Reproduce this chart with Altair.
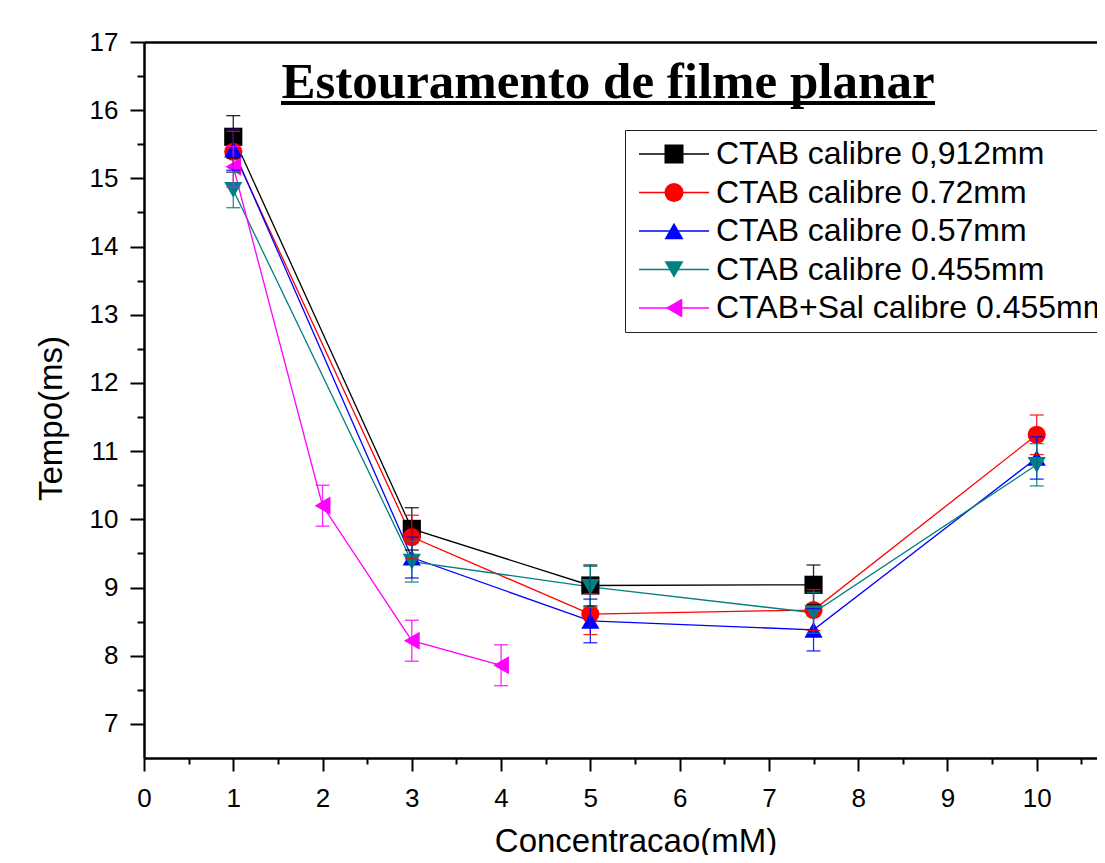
import altair as alt
import pandas as pd

# ---------------- data ----------------
SERIES = [
    "CTAB calibre 0,912mm",
    "CTAB calibre 0.72mm",
    "CTAB calibre 0.57mm",
    "CTAB calibre 0.455mm",
    "CTAB+Sal calibre 0.455mm",
]
COLORS = ["#000000", "#ff0000", "#0000ff", "#008080", "#ff00ff"]
SHAPES = ["square", "circle", "triangle-up", "triangle-down", "triangle-left"]

X_S1 = [1, 3, 5, 7.5]
Y_S1 = [15.61, 9.86, 9.03, 9.04]
E_S1 = [0.31, 0.31, 0.30, 0.29]

X_S2 = [1, 3, 5, 7.5, 10]
Y_S2 = [15.39, 9.74, 8.61, 8.67, 11.24]
E_S2 = [0.30, 0.32, 0.30, 0.30, 0.29]

X_S3 = [1, 3, 5, 7.5, 10]
Y_S3 = [15.42, 9.44, 8.51, 8.38, 10.90]
E_S3 = [0.30, 0.30, 0.32, 0.31, 0.31]

X_S4 = [1, 3, 5, 7.5, 10]
Y_S4 = [14.83, 9.38, 9.01, 8.63, 10.80]
E_S4 = [0.26, 0.30, 0.30, 0.30, 0.31]

X_S5 = [1, 2, 3, 4]
Y_S5 = [15.17, 10.20, 8.22, 7.86]
E_S5 = [0.30, 0.30, 0.30, 0.30]

X_TICKS = [0, 1, 2, 3, 4, 5, 6, 7, 8, 9, 10]
X_MINOR = [0.5, 1.5, 2.5, 3.5, 4.5, 5.5, 6.5, 7.5, 8.5, 9.5, 10.5]
Y_TICKS = [7, 8, 9, 10, 11, 12, 13, 14, 15, 16, 17]
Y_MINOR = [7.5, 8.5, 9.5, 10.5, 11.5, 12.5, 13.5, 14.5, 15.5, 16.5]

TITLE = "Estouramento de filme planar"
X_TITLE = "Concentracao(mM)"
Y_TITLE = "Tempo(ms)"

X_DOMAIN = [0, 10.765]
Y_DOMAIN = [6.5, 17]

# marker legend uses its own (label-hidden) domain so it is not merged
SERIES_MARK = [s + " " for s in SERIES]

# ---------------- table ----------------
rows = []
for name, mname, xs_, ys_, es_ in zip(
    SERIES, SERIES_MARK,
    [X_S1, X_S2, X_S3, X_S4, X_S5],
    [Y_S1, Y_S2, Y_S3, Y_S4, Y_S5],
    [E_S1, E_S2, E_S3, E_S4, E_S5],
):
    for xv, yv, ev in zip(xs_, ys_, es_):
        rows.append({"series": name, "series2": mname, "x": xv, "y": yv, "err": ev})
df = pd.DataFrame(rows)

FONT = "Liberation Sans"

xs = alt.Scale(domain=X_DOMAIN, nice=False, zero=False)
ys = alt.Scale(domain=Y_DOMAIN, nice=False, zero=False)
color_scale = alt.Scale(domain=SERIES, range=COLORS)

legend_lines = alt.Legend(
    title=None, orient="none", legendX=481, legendY=88,
    symbolType="M-1,0H6", symbolSize=400, symbolStrokeWidth=1.3,
    labelFont=FONT, labelFontSize=32, labelColor="black", labelOffset=51,
    labelLimit=2000, padding=8, rowPadding=6.5,
    strokeColor="#222222",
)
legend_marks = alt.Legend(
    title=None, orient="none", legendX=506, legendY=88,
    symbolSize=361, symbolStrokeWidth=0,
    labelFont=FONT, labelFontSize=32, labelExpr="''", labelOffset=51,
    labelLimit=2000, padding=8, rowPadding=6.5,
)

base = alt.Chart(df)

lines = base.mark_line(strokeWidth=1.3).encode(
    x=alt.X("x:Q", scale=xs, axis=alt.Axis(
        orient="bottom", values=X_TICKS, title=X_TITLE, grid=False,
        tickSize=13, tickWidth=2, tickColor="black",
        domainWidth=2.5, domainColor="black",
        labelFont=FONT, labelFontSize=26, labelColor="black", labelPadding=14,
        labelFlush=False, labelAngle=0,
        titleFont=FONT, titleFontSize=33, titleFontWeight="normal", titleColor="black",
        titleX=491.5, titleY=93, titleBaseline="alphabetic", titleAlign="center")),
    y=alt.Y("y:Q", scale=ys, axis=alt.Axis(
        orient="left", values=Y_TICKS, title=Y_TITLE, grid=False,
        tickSize=14, tickWidth=2, tickColor="black",
        domainWidth=2.5, domainColor="black",
        labelFont=FONT, labelFontSize=26, labelColor="black", labelPadding=12,
        labelFlush=False,
        titleFont=FONT, titleFontSize=33, titleFontWeight="normal", titleColor="black",
        titleAngle=270, titleX=-83, titleY=376, titleBaseline="alphabetic",
        titleAlign="center")),
    stroke=alt.Stroke("series:N", scale=color_scale, legend=legend_lines),
)

points = base.mark_point(filled=True, size=330, opacity=1).encode(
    x=alt.X("x:Q", scale=xs, axis=alt.Axis(
        orient="bottom", values=X_MINOR, labels=False, domain=False, grid=False,
        tickSize=6, tickWidth=2, tickColor="black", title=None)),
    y=alt.Y("y:Q", scale=ys, axis=alt.Axis(
        orient="left", values=Y_MINOR, labels=False, domain=False, grid=False,
        tickSize=7, tickWidth=2, tickColor="black", title=None)),
    shape=alt.Shape("series2:N", scale=alt.Scale(domain=SERIES_MARK, range=SHAPES), legend=legend_marks),
    fill=alt.Fill("series2:N", scale=alt.Scale(domain=SERIES_MARK, range=COLORS), legend=legend_marks),
)

bars = base.transform_calculate(
    lo="datum.y - datum.err", hi="datum.y + datum.err"
).mark_rule(strokeWidth=1.3, opacity=0.85).encode(
    x=alt.X("x:Q", scale=xs, axis=alt.Axis(
        orient="top", labels=False, ticks=False, grid=False, title=None,
        domainWidth=2.5, domainColor="black")),
    y=alt.Y("lo:Q", scale=ys, axis=None),
    y2="hi:Q",
    color=alt.Color("series:N", scale=color_scale, legend=None),
)

caps = base.transform_calculate(
    lo="datum.y - datum.err", hi="datum.y + datum.err"
).transform_fold(["lo", "hi"], as_=["end", "cy"]).mark_tick(
    orient="horizontal", size=14, thickness=1.3, opacity=0.85
).encode(
    x=alt.X("x:Q", scale=xs, axis=None),
    y=alt.Y("cy:Q", scale=ys, axis=None),
    color=alt.Color("series:N", scale=color_scale, legend=None),
)

title_df = pd.DataFrame({"t": [TITLE]})
title = alt.Chart(title_df).mark_text(
    font="Liberation Serif", fontSize=51, fontWeight="bold",
    align="center", baseline="alphabetic", color="black",
).encode(x=alt.value(464), y=alt.value(56), text="t:N")
underline = alt.Chart(title_df).mark_rule(strokeWidth=4, color="black").encode(
    x=alt.value(137), x2=alt.value(791), y=alt.value(61)
)

chart = alt.layer(lines, points, bars, caps, title, underline).resolve_axis(
    x="independent", y="independent"
).properties(
    width=961, height=716,
    autosize=alt.AutoSizeParams(type="none"),
    padding={"left": 136, "top": 34, "right": -8, "bottom": 97},
    background="white",
).configure_view(stroke=None)

chart.save("out.html", embed_options={"renderer": "svg", "actions": False})
